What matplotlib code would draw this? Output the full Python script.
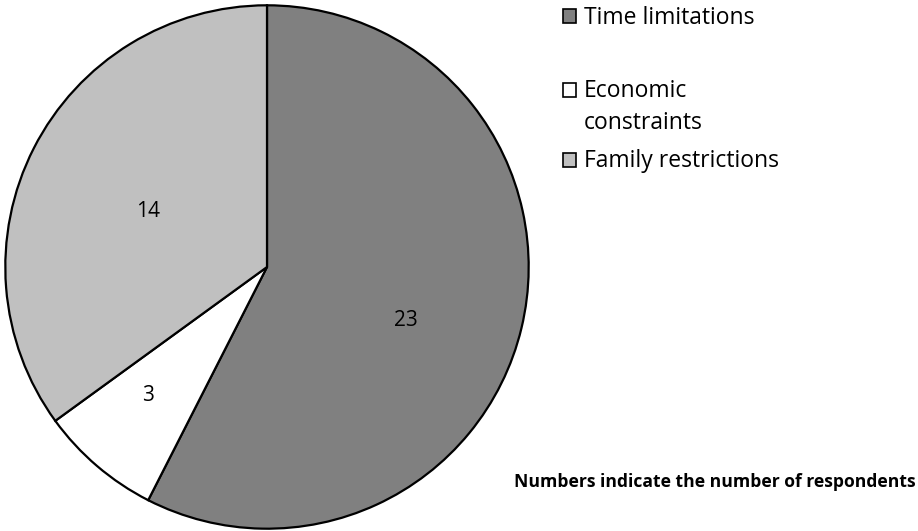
import matplotlib.pyplot as plt
from matplotlib.patches import Rectangle
import numpy as np

plt.rcParams['font.family'] = ['Open Sans', 'DejaVu Sans']

labels = ['Time limitations', 'Economic\nconstraints', 'Family restrictions']
counts = [23, 3, 14]
colors = ['#808080', '#ffffff', '#c0c0c0']
note = 'Numbers indicate the number of respondents'

W, H = 918, 531
fig = plt.figure(figsize=(W / 100, H / 100), dpi=100)

# pie area: centre (267, 267), radius ~263 px
cx, cy, r = 267, 267, 263
ax = fig.add_axes([(cx - r) / W, (H - cy - r) / H, 2 * r / W, 2 * r / H])
wedges, _ = ax.pie(counts, colors=colors, startangle=90, counterclock=False,
                   wedgeprops=dict(edgecolor='black', linewidth=1.6))
ax.set_xlim(-1.005, 1.005)
ax.set_ylim(-1.005, 1.005)

# value labels inside each slice (radius, angle shift from the bisector)
label_r = [0.57, 0.67, 0.50]
label_shift = [-7.5, -2.4, 2.0]
for w, n, lr, sh in zip(wedges, counts, label_r, label_shift):
    ang = np.deg2rad((w.theta1 + w.theta2) / 2 + sh)
    ax.text(lr * np.cos(ang), lr * np.sin(ang), str(n), ha='center', va='center',
            fontsize=15)

# legend drawn by hand (square + text, one line at a time)
sq = 13
sq_y = [16, 90, 160]
txt_base = [24, 97, 167]
line_gap = 32
for lab, col, yc, yb in zip(labels, colors, sq_y, txt_base):
    fig.patches.append(Rectangle((563 / W, (H - yc - sq / 2) / H), sq / W, sq / H,
                                 transform=fig.transFigure, facecolor=col,
                                 edgecolor='black', linewidth=1.2))
    for k, line in enumerate(lab.split('\n')):
        fig.text(584 / W, (H - yb - k * line_gap) / H, line, ha='left',
                 va='baseline', fontsize=16.5)

fig.text(916 / W, (H - 487) / H, note, ha='right', va='baseline', fontsize=12.6,
         fontweight='bold')

fig.savefig('out.png', dpi=100)
